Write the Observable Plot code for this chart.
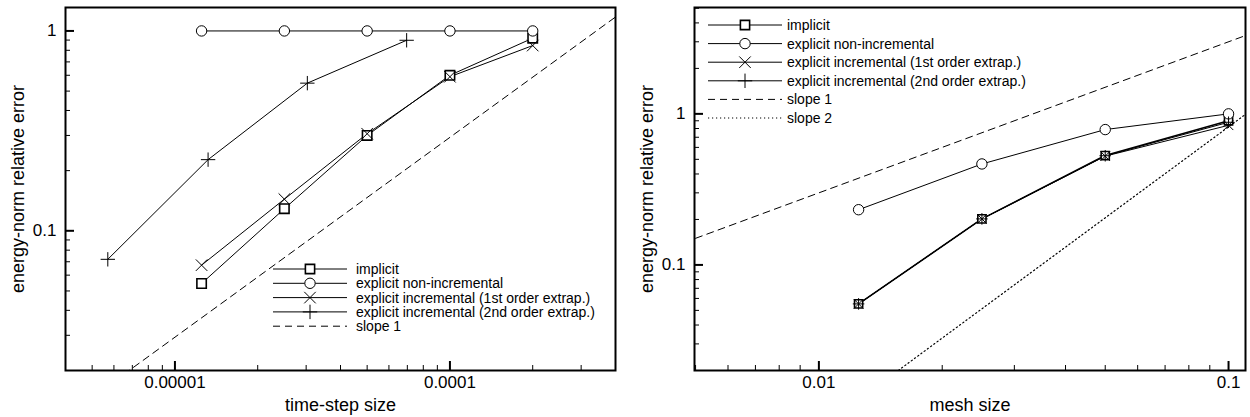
<!DOCTYPE html>
<html><head><meta charset="utf-8">
<script src="https://cdn.jsdelivr.net/npm/d3@7"></script>
<script src="https://cdn.jsdelivr.net/npm/@observablehq/plot@0.6"></script>
<style>
body{margin:0;background:#fff;}
#wrap{display:flex;width:1250px;height:417px;}
.panel{position:relative;width:625px;height:417px;}
.legend{position:absolute;left:0;top:0;pointer-events:none;overflow:visible}
</style></head><body><div id="wrap"><div class="panel" id="left"></div><div class="panel" id="right"></div></div>
<script>
const FONT = "'Liberation Sans', Arial, Helvetica, sans-serif";

// ---------- left panel data (time-step convergence) ----------
const leftTimeStep = [1.25e-5, 2.5e-5, 5e-5, 1e-4, 2e-4];
const leftImplicit = [0.0545, 0.129, 0.30, 0.60, 0.92];
const leftNonIncremental = [1.0, 1.0, 1.0, 1.0, 1.0];
const leftIncremental1 = [0.0673, 0.144, 0.306, 0.59, 0.845];
const leftTimeStep2 = [5.7e-6, 1.32e-5, 3.03e-5, 6.96e-5];
const leftIncremental2 = [0.072, 0.227, 0.548, 0.898];
const leftSlope1X = [4e-6, 4e-4];
const leftSlope1Y = [0.01174, 1.174];
const leftXTicks = [1e-5, 1e-4];
const leftXTickLabels = ["0.00001", "0.0001"];
const leftYTicks = [0.1, 1];
const leftYTickLabels = ["0.1", "1"];

// ---------- right panel data (mesh convergence) ----------
const rightMesh = [0.0125, 0.025, 0.05, 0.1];
const rightImplicit = [0.0552, 0.2017, 0.53, 0.90];
const rightNonIncremental = [0.232, 0.466, 0.787, 1.0];
const rightIncremental1 = [0.0552, 0.2017, 0.525, 0.84];
const rightIncremental2 = [0.0552, 0.2017, 0.528, 0.88];
const rightSlope1X = [0.005, 0.11];
const rightSlope1Y = [0.15, 3.3];
const rightSlope2X = [0.005, 0.11];
const rightSlope2Y = [0.00205, 0.992];
const rightXTicks = [0.01, 0.1];
const rightXTickLabels = ["0.01", "0.1"];
const rightYTicks = [0.1, 1];
const rightYTickLabels = ["0.1", "1"];

const legendLeft = ["implicit", "explicit non-incremental", "explicit incremental (1st order extrap.)", "explicit incremental (2nd order extrap.)", "slope 1"];
const legendRight = ["implicit", "explicit non-incremental", "explicit incremental (1st order extrap.)", "explicit incremental (2nd order extrap.)", "slope 1", "slope 2"];

function minorTicks([d0, d1]) {
  const out = [];
  for (let e = Math.floor(Math.log10(d0)); e <= Math.ceil(Math.log10(d1)); e++) {
    for (let m = 2; m <= 9; m++) {
      const v = +(m + "e" + e);
      if (v >= d0 * 0.999 && v <= d1 * 1.001) out.push(v);
    }
  }
  return out;
}

function pts(xs, ys) { return ys.map((y, i) => ({x: xs[i], y})); }

function axes(xDomain, yDomain, xTicks, xLabels, yTicks, yLabels, xLabel, yLabel) {
  const xf = d => xLabels[xTicks.indexOf(d)];
  const yf = d => yLabels[yTicks.indexOf(d)];
  return [
    Plot.axisX(minorTicks(xDomain), {anchor: "bottom", tickSize: -5, tickFormat: () => "", label: null, strokeWidth: 1}),
    Plot.axisX(xTicks, {anchor: "bottom", tickSize: -9, tickFormat: () => "", label: null, strokeWidth: 2}),
    Plot.axisX(xTicks, {anchor: "bottom", tickSize: 0, tickPadding: 5, tickFormat: xf, fontSize: 17, label: null}),
    Plot.axisY(minorTicks(yDomain), {anchor: "left", tickSize: -5, tickFormat: () => "", label: null, strokeWidth: 1}),
    Plot.axisY(yTicks, {anchor: "left", tickSize: -9, tickFormat: () => "", label: null, strokeWidth: 2}),
    Plot.axisY(yTicks, {anchor: "left", tickSize: 0, tickPadding: 9, tickFormat: yf, fontSize: 17, label: null}),
    Plot.text([xLabel], {text: d => d, frameAnchor: "bottom", dy: 40, lineAnchor: "bottom", fontSize: 18, fill: "#000"}),
    Plot.text([yLabel], {text: d => d, frameAnchor: "left", dx: -47, rotate: -90, lineAnchor: "middle", textAnchor: "middle", fontSize: 18, fill: "#000"})
  ];
}

// ---------- left plot ----------
const lxDomain = [4e-6, 4e-4], lyDomain = [0.02, 1.31];
const leftPlot = Plot.plot({
  width: 625, height: 417,
  marginLeft: 65, marginRight: 10, marginTop: 7, marginBottom: 47,
  style: {fontFamily: FONT, fontSize: "17px", color: "#000", background: "#fff"},
  x: {type: "log", domain: lxDomain},
  y: {type: "log", domain: lyDomain},
  marks: [
    ...axes(lxDomain, lyDomain, leftXTicks, leftXTickLabels, leftYTicks, leftYTickLabels, "time-step size", "energy-norm relative error"),
    Plot.line(pts(leftSlope1X, leftSlope1Y), {x: "x", y: "y", stroke: "#000", strokeWidth: 1, strokeDasharray: "7,5", clip: true}),
    Plot.line(pts(leftTimeStep, leftImplicit), {x: "x", y: "y", stroke: "#000", strokeWidth: 1}),
    Plot.line(pts(leftTimeStep, leftNonIncremental), {x: "x", y: "y", stroke: "#000", strokeWidth: 1}),
    Plot.line(pts(leftTimeStep, leftIncremental1), {x: "x", y: "y", stroke: "#000", strokeWidth: 1}),
    Plot.line(pts(leftTimeStep2, leftIncremental2), {x: "x", y: "y", stroke: "#000", strokeWidth: 1}),
    Plot.dot(pts(leftTimeStep, leftImplicit), {x: "x", y: "y", symbol: "square", r: 5.3, fill: "#fff", stroke: "#000", strokeWidth: 1.6}),
    Plot.dot(pts(leftTimeStep, leftNonIncremental), {x: "x", y: "y", symbol: "circle", r: 5.2, fill: "#fff", stroke: "#000", strokeWidth: 1}),
    Plot.dot(pts(leftTimeStep, leftIncremental1), {x: "x", y: "y", symbol: "times", r: 5.3, stroke: "#000", strokeWidth: 1}),
    Plot.dot(pts(leftTimeStep2, leftIncremental2), {x: "x", y: "y", symbol: "plus", r: 4.7, stroke: "#000", strokeWidth: 1}),
    Plot.frame({stroke: "#000", strokeWidth: 2})
  ]
});
document.getElementById("left").appendChild(leftPlot);

// ---------- right plot ----------
const rxDomain = [0.00497, 0.11], ryDomain = [0.02, 5.06];
const rightPlot = Plot.plot({
  width: 625, height: 417,
  marginLeft: 69, marginRight: 5, marginTop: 7, marginBottom: 47,
  style: {fontFamily: FONT, fontSize: "17px", color: "#000", background: "#fff"},
  x: {type: "log", domain: rxDomain},
  y: {type: "log", domain: ryDomain},
  marks: [
    ...axes(rxDomain, ryDomain, rightXTicks, rightXTickLabels, rightYTicks, rightYTickLabels, "mesh size", "energy-norm relative error"),
    Plot.line(pts(rightSlope1X, rightSlope1Y), {x: "x", y: "y", stroke: "#000", strokeWidth: 1, strokeDasharray: "7,5", clip: true}),
    Plot.line(pts(rightSlope2X, rightSlope2Y), {x: "x", y: "y", stroke: "#000", strokeWidth: 1.2, strokeDasharray: "1.2,2.8", clip: true}),
    Plot.line(pts(rightMesh, rightNonIncremental), {x: "x", y: "y", stroke: "#000", strokeWidth: 1}),
    Plot.line(pts(rightMesh, rightIncremental1), {x: "x", y: "y", stroke: "#000", strokeWidth: 1}),
    Plot.line(pts(rightMesh, rightIncremental2), {x: "x", y: "y", stroke: "#000", strokeWidth: 1}),
    Plot.line(pts(rightMesh, rightImplicit), {x: "x", y: "y", stroke: "#000", strokeWidth: 1.6}),
    Plot.dot(pts(rightMesh, rightImplicit), {x: "x", y: "y", symbol: "square", r: 4.6, fill: "#fff", stroke: "#000", strokeWidth: 1.6}),
    Plot.dot(pts(rightMesh, rightNonIncremental), {x: "x", y: "y", symbol: "circle", r: 5.2, fill: "#fff", stroke: "#000", strokeWidth: 1}),
    Plot.dot(pts(rightMesh, rightIncremental1), {x: "x", y: "y", symbol: "times", r: 4.4, stroke: "#000", strokeWidth: 1}),
    Plot.dot(pts(rightMesh, rightIncremental2), {x: "x", y: "y", symbol: "plus", r: 3.8, stroke: "#000", strokeWidth: 1}),
    Plot.frame({stroke: "#000", strokeWidth: 2})
  ]
});
document.getElementById("right").appendChild(rightPlot);

// ---------- legends ----------
const legendStyles = [
  {symbol: d3.symbolSquare, size: 85, sw: 1.6, fill: "#fff"},
  {symbol: d3.symbolCircle, size: 85, sw: 1, fill: "#fff"},
  {symbol: d3.symbolTimes, size: 88, sw: 1, fill: "none"},
  {symbol: d3.symbolPlus, size: 70, sw: 1, fill: "none"},
  {dash: "7,5"},
  {dash: "1.2,2.8"}
];
function drawLegend(container, labels, box) {
  const svg = d3.select(container).append("svg").attr("class", "legend")
    .attr("width", 625).attr("height", 417);
  labels.forEach((lab, i) => {
    const st = legendStyles[i];
    const y = box.y0 + i * box.dy;
    const g = svg.append("g");
    g.append("line").attr("x1", box.x0).attr("x2", box.x1).attr("y1", y).attr("y2", y)
      .attr("stroke", "#000").attr("stroke-width", st.dash === "1.2,2.8" ? 1.2 : 1)
      .attr("stroke-dasharray", st.dash || null);
    if (st.symbol) {
      g.append("path").attr("d", d3.symbol(st.symbol, st.size)())
        .attr("transform", `translate(${(box.x0 + box.x1) / 2},${y})`)
        .attr("fill", st.fill).attr("stroke", "#000").attr("stroke-width", st.sw);
    }
    g.append("text").attr("x", box.tx).attr("y", y).attr("dy", "0.35em")
      .attr("font-family", FONT).attr("font-size", 14).attr("fill", "#000").text(lab);
  });
}
drawLegend(document.getElementById("left"), legendLeft, {x0: 273, x1: 347, tx: 356, y0: 269, dy: 14.3});
drawLegend(document.getElementById("right"), legendRight, {x0: 83, x1: 157, tx: 162, y0: 25, dy: 18.6});
</script></body></html>
